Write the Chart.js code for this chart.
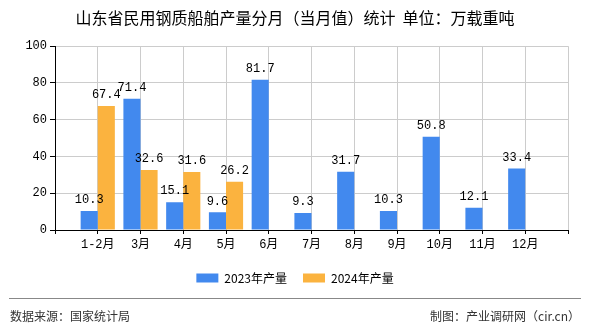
<!DOCTYPE html>
<html>
<head>
<meta charset="utf-8">
<script src="https://cdn.jsdelivr.net/npm/chart.js@4.4.0/dist/chart.umd.min.js"></script>
<style>
  html, body { margin: 0; padding: 0; background: #fff; }
  #wrap { width: 590px; height: 330px; position: relative; }
</style>
</head>
<body>
<div id="wrap"><canvas id="chart" width="590" height="330"></canvas></div>
<script>
// Data
const categories = ['1-2月', '3月', '4月', '5月', '6月', '7月', '8月', '9月', '10月', '11月', '12月'];
const output2023 = [10.3, 71.4, 15.1, 9.6, 81.7, 9.3, 31.7, 10.3, 50.8, 12.1, 33.4];
const output2024 = [67.4, 32.6, 31.6, 26.2, null, null, null, null, null, null, null];
const yTicks = [0, 20, 40, 60, 80, 100];

const titleText = '山东省民用钢质船舶产量分月（当月值）统计  单位：万载重吨';
const sourceText = '数据来源：国家统计局';
const creditText = '制图：产业调研网（cir.cn）';

// blank slots at both ends so ticks sit on category centres
const labels = [''].concat(categories, ['']);
const pad = arr => [null].concat(arr, [null]);

const monoFont = '"Liberation Mono", "Noto Sans CJK SC", monospace';

// value labels above each bar
const valueLabels = {
  id: 'valueLabels',
  afterDatasetsDraw(chart) {
    const ctx = chart.ctx;
    ctx.save();
    ctx.font = '12px ' + monoFont;
    ctx.fillStyle = '#000';
    ctx.textAlign = 'center';
    ctx.textBaseline = 'bottom';
    chart.data.datasets.forEach((ds, i) => {
      const meta = chart.getDatasetMeta(i);
      meta.data.forEach((bar, j) => {
        const v = ds.data[j];
        if (v === null || v === undefined) return;
        ctx.fillText(v.toFixed(1), bar.x, bar.y - 5);
      });
    });
    ctx.restore();
  }
};

// footer with source line
const footer = {
  id: 'footer',
  afterDraw(chart) {
    const ctx = chart.ctx;
    ctx.save();
    ctx.strokeStyle = '#888';
    ctx.lineWidth = 1;
    ctx.beginPath();
    ctx.moveTo(9, 298.5);
    ctx.lineTo(581, 298.5);
    ctx.stroke();
    ctx.font = '12px "Noto Sans CJK SC", sans-serif';
    ctx.fillStyle = '#333';
    ctx.textBaseline = 'middle';
    ctx.textAlign = 'left';
    ctx.fillText(sourceText, 10, 316);
    ctx.textAlign = 'right';
    ctx.fillText(creditText, 580, 316);
    ctx.restore();
  }
};

new Chart(document.getElementById('chart').getContext('2d'), {
  type: 'bar',
  data: {
    labels: labels,
    datasets: [{
      label: '2023年产量',
      data: pad(output2023),
      backgroundColor: '#4289EE',
      categoryPercentage: 0.8,
      barPercentage: 1.0
    }, {
      label: '2024年产量',
      data: pad(output2024),
      backgroundColor: '#FBB33F',
      categoryPercentage: 0.8,
      barPercentage: 1.0
    }]
  },
  options: {
    responsive: false,
    animation: false,
    layout: {
      padding: { left: 22, right: 22, top: 0, bottom: 36 }
    },
    plugins: {
      title: {
        display: true,
        text: titleText,
        color: '#000',
        font: { size: 16, weight: 'normal', family: '"Noto Sans CJK SC", sans-serif' },
        padding: { top: 8, bottom: 19 }
      },
      legend: {
        position: 'bottom',
        labels: {
          boxWidth: 22,
          boxHeight: 9,
          color: '#000',
          padding: 16,
          font: { size: 12, family: '"Noto Sans CJK SC", sans-serif' }
        }
      },
      tooltip: { enabled: false }
    },
    scales: {
      x: {
        offset: false,
        afterFit(scale) { scale.height = 26; },
        grid: { offset: false, color: '#ccc', tickColor: '#000', tickLength: 4 },
        border: { color: '#000' },
        ticks: {
          color: '#000',
          autoSkip: false,
          maxRotation: 0,
          padding: 4,
          font: { size: 12, family: monoFont }
        }
      },
      y: {
        min: 0,
        max: 100,
        afterFit(scale) { scale.width = 33; },
        afterBuildTicks(scale) { scale.ticks = yTicks.map(v => ({ value: v })); },
        grid: { color: '#ccc', tickColor: '#000', tickLength: 5 },
        border: { color: '#000' },
        ticks: {
          color: '#000',
          padding: 3,
          font: { size: 12, family: monoFont }
        }
      }
    }
  },
  plugins: [valueLabels, footer]
});
</script>
</body>
</html>
